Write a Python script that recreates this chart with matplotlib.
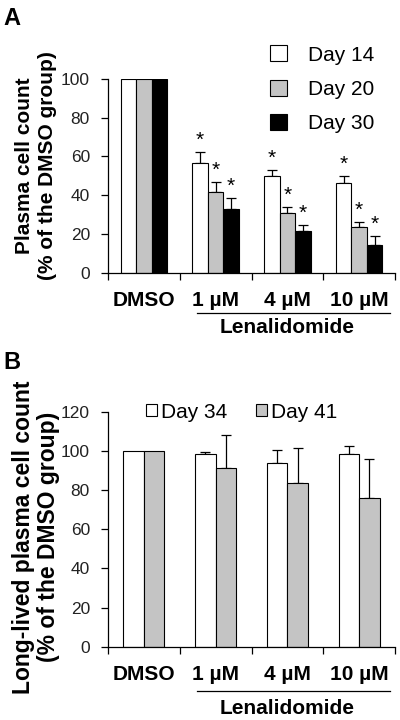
import matplotlib
matplotlib.use("Agg")
import matplotlib.pyplot as plt
import matplotlib.transforms as mtransforms
import numpy as np

plt.rcParams['font.family'] = ['Liberation Sans', 'DejaVu Sans']

groups = ["DMSO", "1 µM", "4 µM", "10 µM"]
treatment = "Lenalidomide"

# panel A: plasma cell count (% of DMSO)
days_a = ["Day 14", "Day 20", "Day 30"]
mean_a = [
    [100, 56.5, 49.8, 46.2],
    [100, 41.9, 31.0, 23.8],
    [100, 33.1, 21.5, 14.5],
]
err_a = [
    [0, 6.0, 3.1, 3.9],
    [0, 5.1, 3.1, 2.4],
    [0, 5.3, 3.3, 4.5],
]
colors_a = ["white", "#c4c4c4", "black"]

# panel B: long-lived plasma cell count (% of DMSO)
days_b = ["Day 34", "Day 41"]
mean_b = [
    [100, 98.6, 93.7, 98.2],
    [100, 91.1, 83.8, 75.7],
]
err_b = [
    [0, 0.7, 6.6, 4.4],
    [0, 16.8, 17.8, 20.1],
]
colors_b = ["white", "#c4c4c4"]


def draw_panel(ax, means, errs, colors, labels, width, stars):
    x = np.arange(len(groups))
    n = len(means)
    handles = []
    for i in range(n):
        xi = x + (i - (n - 1) / 2) * width
        b = ax.bar(xi, means[i], width, color=colors[i], edgecolor="black",
                   linewidth=0.8, label=labels[i], zorder=2)
        handles.append(b)
        e = np.array(errs[i])
        m = np.array(means[i])
        sel = e > 0
        ax.errorbar(xi[sel], m[sel], yerr=[np.zeros(sel.sum()), e[sel]],
                    fmt="none", ecolor="black", elinewidth=0.9,
                    capsize=3.6, capthick=0.9, zorder=1)
        if stars:
            for xx, mm, ee in zip(xi[sel], m[sel], e[sel]):
                ax.annotate("*", xy=(xx, mm + ee), xytext=(0, 1.5),
                            textcoords="offset points", ha="center",
                            va="bottom", fontsize=15, annotation_clip=False)
    ax.set_xlim(-0.5, len(groups) - 0.5)
    ax.spines["top"].set_visible(False)
    ax.spines["right"].set_visible(False)
    for s in ("left", "bottom"):
        ax.spines[s].set_linewidth(0.9)
    ax.set_xticks(np.arange(len(groups) + 1) - 0.5)
    ax.set_xticklabels([])
    ax.set_xticks(x, minor=True)
    ax.set_xticklabels(groups, minor=True, fontsize=15, fontweight="bold")
    ax.tick_params(axis="x", which="major", direction="out", length=5, width=0.9)
    ax.tick_params(axis="x", which="minor", length=0, pad=13)
    ax.tick_params(axis="y", direction="out", length=5, width=0.9, pad=8,
                   labelsize=12.5, labelcolor="#222222")
    return handles


fig = plt.figure(figsize=(4, 7.2), dpi=100)

ax_a = fig.add_axes([0.27, 0.621, 0.7175, 0.2694])
h_a = draw_panel(ax_a, mean_a, err_a, colors_a, days_a, 0.216, True)
ax_a.set_ylim(0, 100)
ax_a.set_yticks(np.arange(0, 101, 20))
fig.legend(handles=h_a, labels=days_a, loc="upper left",
           bbox_to_anchor=(0.675, 0.937), frameon=False, fontsize=15,
           handlelength=0.8, handleheight=0.8, handletextpad=1.0,
           labelspacing=0.72, borderpad=0, borderaxespad=0)

ax_b = fig.add_axes([0.27, 0.1018, 0.7175, 0.3264])
h_b = draw_panel(ax_b, mean_b, err_b, colors_b, days_b, 0.286, False)
ax_b.set_ylim(0, 120)
ax_b.set_yticks(np.arange(0, 121, 20))
fig.legend(handles=h_b, labels=days_b, loc="center left",
           bbox_to_anchor=(0.365, 1 - 412 / 720), frameon=False, fontsize=15,
           ncol=2, handlelength=0.55, handleheight=0.55, handletextpad=0.15,
           columnspacing=1.4, borderpad=0, borderaxespad=0)

# y labels
fig.text(0.09, 1 - 166 / 720, "Plasma cell count\n(% of the DMSO group)",
         rotation=90, ha="center", va="center", multialignment="center",
         fontsize=15, fontweight="bold", linespacing=1.25)
fig.text(0.09, 1 - 537 / 720, "Long-lived plasma cell count\n(% of the DMSO group)",
         rotation=90, ha="center", va="center", multialignment="center",
         fontsize=16.5, fontweight="bold", linespacing=1.1)

# treatment bracket
for ax, yl, yt in ((ax_a, 1 - 313 / 720, 1 - 328 / 720),
                   (ax_b, 1 - 691 / 720, 1 - 708 / 720)):
    tr = mtransforms.blended_transform_factory(ax.transData, fig.transFigure)
    ax.plot([0.74, 3.43], [yl, yl], color="black", lw=0.9, transform=tr,
            clip_on=False)
    ax.text(2.0, yt, treatment, transform=tr, ha="center", va="center",
            fontsize=15, fontweight="bold")

fig.text(0.008, 0.99, "A", ha="left", va="top", fontsize=17, fontweight="bold")
fig.text(0.008, 1 - 351 / 720, "B", ha="left", va="top", fontsize=17,
         fontweight="bold")

fig.savefig("out.png", dpi=100)
